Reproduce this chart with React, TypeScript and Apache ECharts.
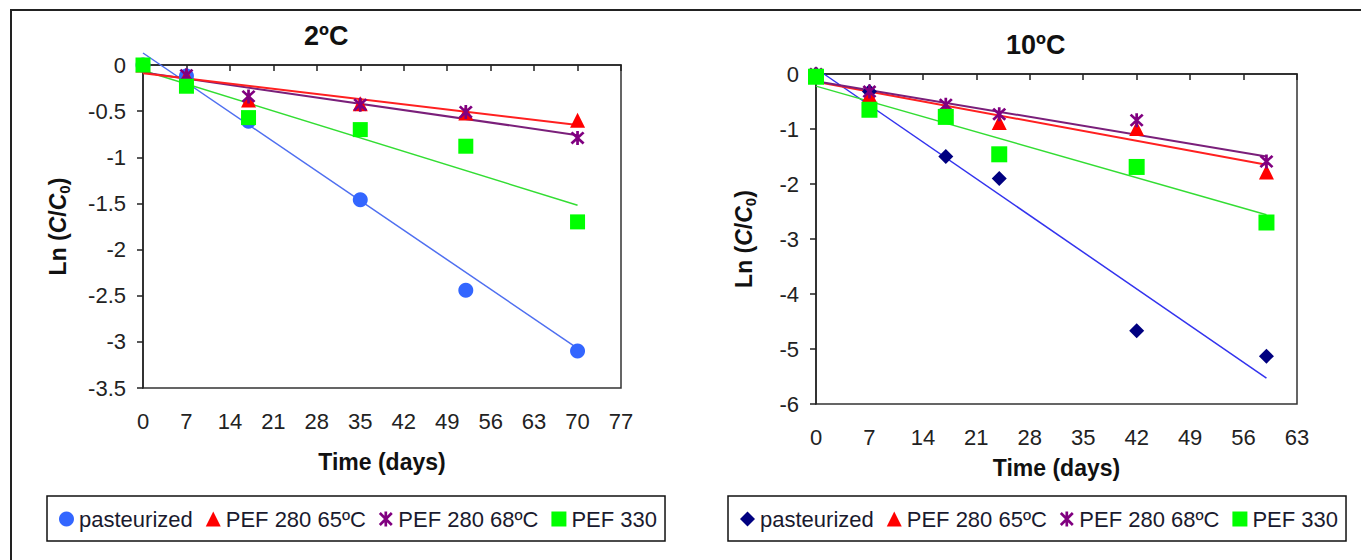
import React, { useEffect, useRef } from "react";
import * as echarts from "echarts";

// ---- data ----
const leftDays = [0, 7, 17, 35, 52, 70];
const leftPasteurized = [0, -0.12, -0.61, -1.46, -2.44, -3.1];
const leftPef65 = [0, -0.12, -0.38, -0.42, -0.52, -0.6];
const leftPef68 = [0, -0.11, -0.34, -0.43, -0.51, -0.79];
const leftPef330 = [0, -0.23, -0.57, -0.7, -0.88, -1.7];
const leftTrendDays = [0, 70];
const leftTrendPasteurized = [0.13, -3.07];
const leftTrendPef65 = [-0.09, -0.65];
const leftTrendPef68 = [-0.08, -0.76];
const leftTrendPef330 = [-0.06, -1.52];

const rightDays = [0, 7, 17, 24, 42, 59];
const rightPasteurized = [0, -0.32, -1.5, -1.9, -4.67, -5.13];
const rightPef65 = [0, -0.38, -0.62, -0.88, -0.99, -1.78];
const rightPef68 = [0, -0.32, -0.56, -0.73, -0.84, -1.59];
const rightPef330 = [-0.05, -0.65, -0.78, -1.46, -1.69, -2.7];
const rightTrendDays = [0, 59];
const rightTrendPasteurized = [0.1, -5.53];
const rightTrendPef65 = [-0.14, -1.65];
const rightTrendPef68 = [-0.13, -1.5];
const rightTrendPef330 = [-0.22, -2.56];

const seriesNames = ["pasteurized", "PEF 280 65ºC", "PEF 280 68ºC", "PEF 330"];
const titles = ["2ºC", "10ºC"];

const FONT = "Liberation Sans";
const STAR =
  "path://M-1.8,-10L1.8,-10L1.8,10L-1.8,10Z M-6.73,-9.27L9.27,6.73L6.73,9.27L-9.27,-6.73Z M9.27,-6.73L-6.73,9.27L-9.27,6.73L6.73,-9.27Z";

const zip = (xs: number[], ys: number[]) => xs.map((x, i) => [x, ys[i]]);

export default function App() {
  const ref = useRef<HTMLDivElement>(null);
  useEffect(() => {
    if (!ref.current) return;
    const chart = echarts.init(ref.current, null, { renderer: "svg" });

    const axisLine = { show: true, lineStyle: { color: "#222", width: 1.5 } };
    const axisTick = { show: true, inside: false, length: 6, lineStyle: { color: "#222", width: 1.5 } };
    const labelStyle = { fontFamily: FONT, fontSize: 22, color: "#222" };
    const yName = {
      rich: {
        b: { fontFamily: FONT, fontSize: 23, fontWeight: "bold", color: "#111", lineHeight: 28 },
        i: { fontFamily: FONT, fontSize: 23, fontWeight: "bold", fontStyle: "italic", color: "#111", lineHeight: 28 },
        s: { fontFamily: FONT, fontSize: 15, fontWeight: "bold", color: "#111", lineHeight: 28, verticalAlign: "bottom" },
      },
    };
    const yNameText = "{b|Ln (}{i|C}{b|/}{i|C}{s|0}{b|)}";

    const scatter = (name: string, xi: number, data: number[][], symbol: string, color: string, size: number) => ({
      type: "scatter",
      name,
      xAxisIndex: xi,
      yAxisIndex: xi,
      data,
      symbol,
      symbolSize: size,
      itemStyle: { color, opacity: 1 },
      clip: false,
      silent: true,
      z: 3,
    });
    const trend = (xi: number, data: number[][], color: string, width: number, id: string) => ({
      type: "line",
      name: id,
      xAxisIndex: xi,
      yAxisIndex: xi,
      data,
      symbol: "none",
      lineStyle: { color, width },
      clip: false,
      silent: true,
      z: 2,
    });

    const legendBase = {
      orient: "horizontal",
      borderColor: "#111",
      borderWidth: 1.5,
      padding: [12, 8, 11, 12],
      itemWidth: 15,
      itemHeight: 15,
      itemGap: 13,
      textStyle: { fontFamily: FONT, fontSize: 22, color: "#1a1a2e" },
      selectedMode: false,
    };

    chart.setOption({
      animation: false,
      backgroundColor: "#fff",
      title: [
        { text: titles[0], left: 299, top: 17, textStyle: { fontFamily: FONT, fontSize: 27, fontWeight: "bold", color: "#111" } },
        { text: titles[1], left: 1001, top: 26, textStyle: { fontFamily: FONT, fontSize: 27, fontWeight: "bold", color: "#111" } },
      ],
      graphic: [
        {
          type: "rect",
          shape: { x: 11, y: 10, width: 1400, height: 620 },
          style: { fill: "none", stroke: "#222", lineWidth: 2 },
          silent: true,
        },
      ],
      grid: [
        { left: 143, top: 65, width: 478, height: 323, show: true, borderColor: "#333", borderWidth: 1.5, backgroundColor: "transparent" },
        { left: 816, top: 74, width: 481, height: 330, show: true, borderColor: "#333", borderWidth: 1.5, backgroundColor: "transparent" },
      ],
      xAxis: [
        {
          type: "value", gridIndex: 0, min: 0, max: 77, interval: 7,
          axisLine, axisTick, splitLine: { show: false },
          axisLabel: { ...labelStyle, margin: 22 },
          name: "Time (days)", nameLocation: "middle", nameGap: 62,
          nameTextStyle: { fontFamily: FONT, fontSize: 23, fontWeight: "bold", color: "#111" },
        },
        {
          type: "value", gridIndex: 1, min: 0, max: 63, interval: 7,
          axisLine, axisTick, splitLine: { show: false },
          axisLabel: { ...labelStyle, margin: 22 },
          name: "Time (days)", nameLocation: "middle", nameGap: 52,
          nameTextStyle: { fontFamily: FONT, fontSize: 23, fontWeight: "bold", color: "#111" },
        },
      ],
      yAxis: [
        {
          type: "value", gridIndex: 0, min: -3.5, max: 0, interval: 0.5,
          axisLine, axisTick, splitLine: { show: false },
          axisLabel: { ...labelStyle, margin: 17 },
          name: yNameText, nameLocation: "middle", nameRotate: 90, nameGap: 71,
          nameTextStyle: yName,
        },
        {
          type: "value", gridIndex: 1, min: -6, max: 0, interval: 1,
          axisLine, axisTick, splitLine: { show: false },
          axisLabel: { ...labelStyle, margin: 17 },
          name: yNameText, nameLocation: "middle", nameRotate: 90, nameGap: 58,
          nameTextStyle: yName,
        },
      ],
      legend: [
        {
          ...legendBase,
          left: 47,
          top: 496,
          data: [
            { name: seriesNames[0], icon: "circle", itemStyle: { color: "#3366ff" } },
            { name: seriesNames[1], icon: "triangle", itemStyle: { color: "#ff0000" } },
            { name: seriesNames[2], icon: STAR, itemStyle: { color: "#800080" } },
            { name: seriesNames[3], icon: "rect", itemStyle: { color: "#00ff00" } },
          ],
        },
        {
          ...legendBase,
          left: 728,
          top: 496,
          data: [
            { name: seriesNames[0], icon: "diamond", itemStyle: { color: "#000080" } },
            { name: seriesNames[1], icon: "triangle", itemStyle: { color: "#ff0000" } },
            { name: seriesNames[2], icon: STAR, itemStyle: { color: "#800080" } },
            { name: seriesNames[3], icon: "rect", itemStyle: { color: "#00ff00" } },
          ],
        },
      ],
      series: [
        trend(0, zip(leftTrendDays, leftTrendPasteurized), "#4f6ff0", 1.5, "t1"),
        trend(0, zip(leftTrendDays, leftTrendPef330), "#33dd33", 1.5, "t4"),
        trend(0, zip(leftTrendDays, leftTrendPef68), "#7a1f7a", 2, "t3"),
        trend(0, zip(leftTrendDays, leftTrendPef65), "#ff2020", 2, "t2"),
        scatter(seriesNames[0], 0, zip(leftDays, leftPasteurized), "circle", "#3366ff", 15),
        scatter(seriesNames[1], 0, zip(leftDays, leftPef65), "triangle", "#ff0000", 15),
        scatter(seriesNames[2], 0, zip(leftDays, leftPef68), STAR, "#800080", 14),
        scatter(seriesNames[3], 0, zip(leftDays, leftPef330), "rect", "#00ff00", 15),

        trend(1, zip(rightTrendDays, rightTrendPasteurized), "#3333ee", 1.5, "u1"),
        trend(1, zip(rightTrendDays, rightTrendPef330), "#33dd33", 1.5, "u4"),
        trend(1, zip(rightTrendDays, rightTrendPef65), "#ff2020", 2, "u2"),
        trend(1, zip(rightTrendDays, rightTrendPef68), "#7a1f7a", 2, "u3"),
        scatter(seriesNames[0], 1, zip(rightDays, rightPasteurized), "diamond", "#000080", 15),
        scatter(seriesNames[1], 1, zip(rightDays, rightPef65), "triangle", "#ff0000", 15),
        scatter(seriesNames[2], 1, zip(rightDays, rightPef68), STAR, "#800080", 14),
        scatter(seriesNames[3], 1, zip(rightDays, rightPef330), "rect", "#00ff00", 16),
      ],
    });
    return () => chart.dispose();
  }, []);
  return (
    <div
      ref={ref}
      style={{ position: "fixed", left: 0, top: 0, width: 1361, height: 560, background: "#fff" }}
    />
  );
}
